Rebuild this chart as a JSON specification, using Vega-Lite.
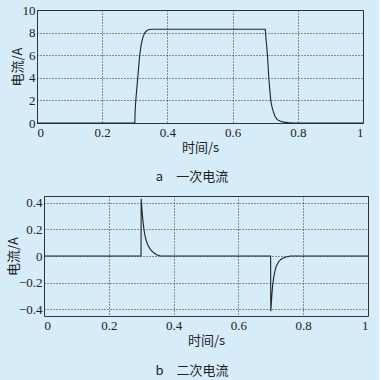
{
  "$schema": "https://vega.github.io/schema/vega-lite/v6.json",
  "background": "#d6ecf8",
  "padding": {"left": 0, "top": 3, "right": 8, "bottom": 1},
  "spacing": 10,
  "datasets": {
    "primary": [
      {"t": 0, "i": 0}, {"t": 0.3, "i": 0}, {"t": 0.301, "i": 1}, {"t": 0.303, "i": 2},
      {"t": 0.306, "i": 3}, {"t": 0.309, "i": 4}, {"t": 0.312, "i": 5}, {"t": 0.315, "i": 6},
      {"t": 0.32, "i": 7}, {"t": 0.325, "i": 7.6}, {"t": 0.331, "i": 8.0}, {"t": 0.338, "i": 8.2},
      {"t": 0.345, "i": 8.27}, {"t": 0.354, "i": 8.3}, {"t": 0.7, "i": 8.3}, {"t": 0.703, "i": 7.3},
      {"t": 0.707, "i": 6}, {"t": 0.711, "i": 4}, {"t": 0.714, "i": 3}, {"t": 0.717, "i": 2},
      {"t": 0.721, "i": 1.4}, {"t": 0.725, "i": 1}, {"t": 0.73, "i": 0.6}, {"t": 0.737, "i": 0.3},
      {"t": 0.745, "i": 0.17}, {"t": 0.757, "i": 0.08}, {"t": 0.77, "i": 0.03}, {"t": 0.785, "i": 0},
      {"t": 1, "i": 0}
    ],
    "secondary": [
      {"t": 0, "i": 0}, {"t": 0.2995, "i": 0}, {"t": 0.3, "i": 0.43}, {"t": 0.302, "i": 0.36},
      {"t": 0.304, "i": 0.3}, {"t": 0.306, "i": 0.25}, {"t": 0.308, "i": 0.207}, {"t": 0.311, "i": 0.16},
      {"t": 0.315, "i": 0.12}, {"t": 0.321, "i": 0.08}, {"t": 0.328, "i": 0.05}, {"t": 0.337, "i": 0.028},
      {"t": 0.347, "i": 0.01}, {"t": 0.36, "i": 0}, {"t": 0.6995, "i": 0}, {"t": 0.7, "i": -0.415},
      {"t": 0.702, "i": -0.34}, {"t": 0.704, "i": -0.27}, {"t": 0.706, "i": -0.217}, {"t": 0.709, "i": -0.16},
      {"t": 0.713, "i": -0.11}, {"t": 0.717, "i": -0.075}, {"t": 0.724, "i": -0.045}, {"t": 0.73, "i": -0.028},
      {"t": 0.737, "i": -0.017}, {"t": 0.747, "i": -0.007}, {"t": 0.76, "i": 0}, {"t": 1, "i": 0}
    ],
    "none": []
  },
  "config": {
    "view": {"stroke": "#333", "strokeWidth": 1},
    "axis": {
      "domain": false, "ticks": false,
      "grid": true, "gridColor": "#333", "gridDash": [1, 2], "gridOpacity": 1, "gridWidth": 1,
      "labelFont": "Liberation Serif", "labelFontSize": 13, "labelColor": "#222",
      "titleFont": "Noto Sans CJK SC", "titleFontSize": 13, "titleFontWeight": "normal", "titleColor": "#222"
    },
    "title": {"font": "Noto Sans CJK SC", "fontSize": 13, "fontWeight": "normal", "color": "#222"}
  },
  "vconcat": [
    {
      "spacing": 0,
      "hconcat": [
        {"width": 10, "height": 10, "view": {"stroke": null}, "data": {"name": "none"}, "mark": "point"},
        {
          "width": 326, "height": 113,
          "title": {"text": "a\u2003一次电流", "orient": "bottom", "offset": 17, "dx": -8},
          "data": {"name": "primary"},
          "mark": {"type": "line", "color": "#222", "strokeWidth": 1.1},
          "encoding": {
            "x": {"field": "t", "type": "quantitative", "scale": {"domain": [0, 1], "nice": false},
                  "axis": {"title": "时间/s", "values": [0, 0.2, 0.4, 0.6, 0.8, 1], "format": "~g", "labelFont": "Liberation Serif, Times New Roman, serif", "labelPadding": 3, "titlePadding": 2}},
            "y": {"field": "i", "type": "quantitative", "scale": {"domain": [0, 10], "nice": false},
                  "axis": {"title": "电流/A", "values": [0, 2, 4, 6, 8, 10], "labelFont": "Liberation Serif, Times New Roman, serif", "labelPadding": 2, "titlePadding": -2}}
          }
        }
      ]
    },
    {
      "spacing": 0,
      "hconcat": [
        {"width": 6, "height": 10, "view": {"stroke": null}, "data": {"name": "none"}, "mark": "point"},
        {
          "width": 324, "height": 120,
          "title": {"text": "b\u2003二次电流", "orient": "bottom", "offset": 18, "dx": -14},
          "data": {"name": "secondary"},
          "mark": {"type": "line", "color": "#222", "strokeWidth": 1.1},
          "encoding": {
            "x": {"field": "t", "type": "quantitative", "scale": {"domain": [0, 1], "nice": false},
                  "axis": {"title": "时间/s", "values": [0, 0.2, 0.4, 0.6, 0.8, 1], "format": "~g", "labelFont": "Liberation Serif, Times New Roman, serif", "labelPadding": 3, "titlePadding": 2}},
            "y": {"field": "i", "type": "quantitative", "scale": {"domain": [-0.45, 0.45], "nice": false},
                  "axis": {"title": "电流/A", "values": [-0.4, -0.2, 0, 0.2, 0.4], "format": "~g", "labelFont": "Liberation Serif, Times New Roman, serif", "labelPadding": 2, "titlePadding": -2}}
          }
        }
      ]
    }
  ]
}
